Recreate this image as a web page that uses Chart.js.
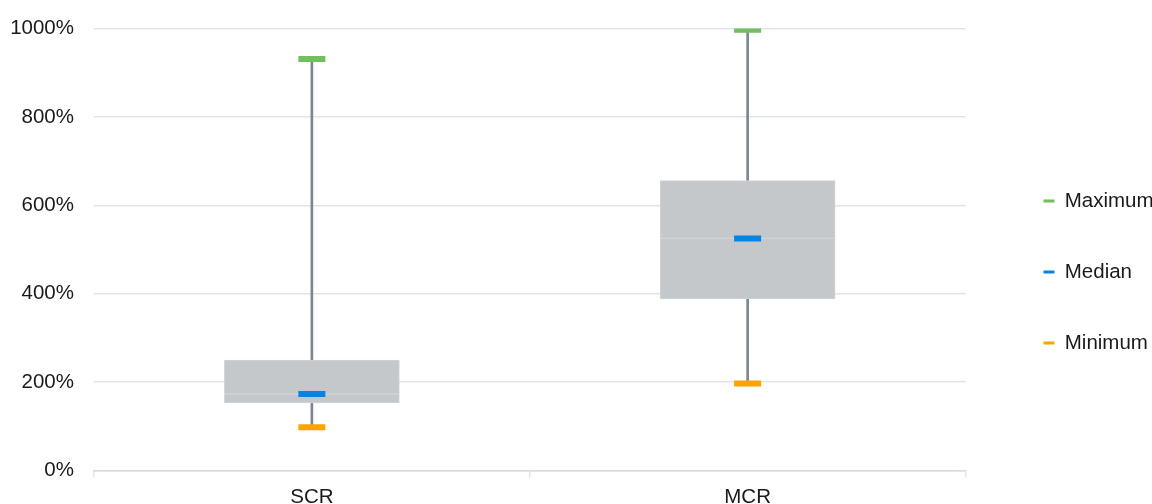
<!DOCTYPE html>
<html>
<head>
<meta charset="utf-8">
<script src="https://cdn.jsdelivr.net/npm/chart.js@4/dist/chart.umd.min.js"></script>
<style>
  html, body { margin: 0; padding: 0; background: #ffffff; }
  #wrap { width: 1152px; height: 504px; }
</style>
</head>
<body>
<div id="wrap"><canvas id="boxChart"></canvas></div>
<script>
// box plot values, in percent
const categorias = ['SCR', 'MCR'];
const maximo = [931, 997];
const cuartil3 = [250, 656];
const mediana = [173, 525];
const cuartil1 = [153, 388];
const minimo = [98, 197];

const FONT = { family: '"Liberation Sans", Arial, sans-serif', size: 20.5 };
const TEXT = '#1a1a1a';
const GRID = '#e2e5e8';

// floating bars [from, to] per category
let rango = (a, b) => a.map((v, i) => [v, b[i]]);

function marker(label, data, color, order) {
    return {
        type: 'line',
        label: label,
        data: data,
        showLine: false,
        pointStyle: 'line',
        pointRadius: 13.5,
        pointHoverRadius: 13.5,
        pointBorderWidth: 6,
        pointHoverBorderWidth: 6,
        borderColor: color,
        backgroundColor: color,
        order: order
    };
}

function caja(label, data, order) {
    return {
        label: label,
        data: data,
        grouped: false,
        barThickness: 175,
        backgroundColor: '#c5c8ca',
        borderColor: '#d1d4d6',
        borderWidth: 1,
        borderSkipped: false,
        order: order
    };
}

let ctx = document.getElementById('boxChart');
let boxChart = new Chart(ctx, {
    type: 'bar',
    data: {
        labels: categorias,
        datasets: [
            marker('Maximum', maximo, '#72bf5f', 0),
            marker('Median', mediana, '#0783e2', 1),
            marker('Minimum', minimo, '#ffa300', 2),
            caja('q1', rango(cuartil1, mediana), 3),
            caja('q3', rango(mediana, cuartil3), 3),
            {
                label: 'whisker',
                data: rango(minimo, maximo),
                grouped: false,
                barThickness: 2,
                backgroundColor: '#7a8595',
                borderWidth: 0,
                order: 4
            }
        ]
    },
    options: {
        responsive: true,
        maintainAspectRatio: false,
        animation: false,
        events: [],
        layout: { padding: { left: 10, top: 28.5, right: 0, bottom: 0 } },
        scales: {
            x: {
                grid: { drawOnChartArea: false, tickLength: 7, color: GRID, lineWidth: 1.5 },
                border: { color: '#d9dcdf', width: 1.5 },
                ticks: { font: FONT, color: TEXT, padding: 8 },
                afterFit: (scale) => { scale.height = 33.5; }
            },
            y: {
                min: 0,
                max: 1000,
                ticks: {
                    stepSize: 200,
                    font: FONT,
                    color: TEXT,
                    padding: 20,
                    callback: (v) => v + '%'
                },
                grid: { color: GRID, lineWidth: 1.5, drawTicks: false },
                border: { display: false },
                afterFit: (scale) => {
                    scale.width = 84;
                    scale.paddingTop = 0;
                    scale.paddingBottom = 0;
                }
            },
            // empty space between the plot and the legend
            gap: {
                position: 'right',
                display: true,
                grid: { display: false },
                border: { display: false },
                ticks: { display: false },
                afterFit: (scale) => { scale.width = 27.5; }
            }
        },
        plugins: {
            tooltip: { enabled: false },
            legend: {
                position: 'right',
                maxWidth: 159,
                title: { display: true, text: '', padding: 0, font: { size: 20.5, lineHeight: 0.57 } },
                labels: {
                    font: FONT,
                    color: TEXT,
                    usePointStyle: true,
                    pointStyleWidth: 11,
                    padding: 50.5,
                    generateLabels: (chart) => {
                        const items = Chart.defaults.plugins.legend.labels.generateLabels(chart);
                        return items
                            .filter((it) => it.datasetIndex < 3)
                            .map((it) => { it.lineWidth = 3; return it; });
                    }
                }
            }
        }
    }
});
</script>
</body>
</html>
